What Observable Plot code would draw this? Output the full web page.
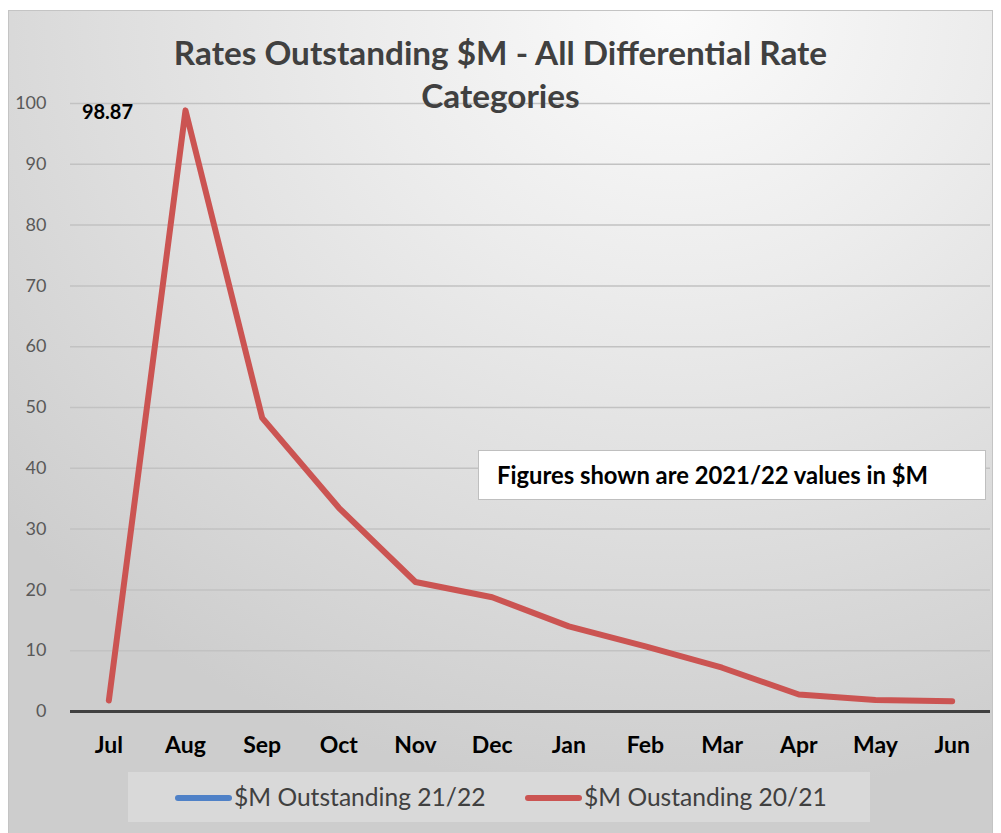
<!DOCTYPE html>
<html><head><meta charset="utf-8">
<script src="https://cdn.jsdelivr.net/npm/d3@7"></script>
<script src="https://cdn.jsdelivr.net/npm/@observablehq/plot@0.6"></script>
<style>
body{margin:0;background:#fff;font-family:Lato,"Open Sans",sans-serif}
#wrap{position:relative;width:1001px;height:833px;overflow:hidden}
#bg{position:absolute;left:8px;top:10px;width:983px;height:830px;border:1px solid #c4c4c4;
  background:radial-gradient(ellipse 90% 95% at 68% 0%, #fbfbfb 0%, #ececec 35%, #dedede 65%, #cdcdcd 100%)}
#chart{position:absolute;left:0;top:0}
#title{position:absolute;left:0;top:31px;width:1001px;text-align:center;font-size:33.3px;font-weight:700;color:#404040;line-height:43px}
#note{position:absolute;left:478px;top:450px;width:508px;height:50px;background:#fff;border:1px solid #bfbfbf;box-sizing:border-box;
  font-size:23.8px;font-weight:700;color:#000;line-height:48px;padding-left:18px;white-space:nowrap}
#legend{position:absolute;left:128px;top:772px;width:742px;height:50px;background:#d9d9d9;box-sizing:border-box;
  font-size:24.6px;color:#404040;line-height:50px}
.item{position:absolute;top:0;white-space:nowrap}
.sw{display:inline-block;width:57px;height:6px;border-radius:3px;vertical-align:middle;margin-right:2px;position:relative;top:-2px}
</style></head>
<body>
<div id="wrap">
  <div id="bg"></div>
  <div id="chart"></div>
  <div id="title"></div>
  <div id="note"></div>
  <div id="legend"></div>
</div>
<script>
const months = ["Jul","Aug","Sep","Oct","Nov","Dec","Jan","Feb","Mar","Apr","May","Jun"];
const outstanding2021 = [1.8, 98.87, 48.3, 33.5, 21.3, 18.8, 14.0, 10.7, 7.2, 2.8, 1.9, 1.7];
const yTicks = [0,10,20,30,40,50,60,70,80,90,100];
const seriesNames = ["$M Outstanding 21/22", "$M Oustanding 20/21"];
const seriesColors = ["#4f81c7", "#cb5452"];
const titleLines = ["Rates Outstanding $M - All Differential Rate", "Categories"];
const noteText = "Figures shown are 2021/22 values in $M";
const peakMonth = "Aug";
const peakValue = 98.87;

const data = months.map((m, i) => ({month: m, value: outstanding2021[i]}));

const chart = Plot.plot({
  width: 1001, height: 833,
  marginLeft: 70, marginRight: 11, marginTop: 103, marginBottom: 122,
  style: {background: "transparent", fontFamily: "Lato, 'Open Sans', sans-serif", overflow: "visible"},
  x: {type: "point", domain: months, padding: 0.5, round: false},
  y: {domain: [0, 100]},
  marks: [
    Plot.gridY(yTicks, {stroke: "#c2c2c2", strokeOpacity: 1, strokeWidth: 1.5}),
    Plot.axisY(yTicks, {tickSize: 0, tickPadding: 24, fontSize: 18, fill: "#595959", label: null}),
    Plot.axisX({tickSize: 0, tickPadding: 25, fontSize: 23, fontWeight: "bold", fill: "#000", label: null}),
    Plot.ruleY([0], {stroke: "#404040", strokeWidth: 3}),
    Plot.lineY(data, {x: "month", y: "value", stroke: seriesColors[1], strokeWidth: 6, strokeLinecap: "round", strokeLinejoin: "round"}),
    Plot.text([{month: peakMonth, value: peakValue}], {x: "month", y: "value", text: d => d.value.toFixed(2),
      dx: -78, dy: 2, fontSize: 20, fontWeight: "bold", fill: "#000"})
  ]
});
document.getElementById("chart").appendChild(chart);

document.getElementById("title").innerHTML = titleLines.join("<br>");
document.getElementById("note").textContent = noteText;

const legend = document.getElementById("legend");
const lefts = [47, 397];
seriesNames.forEach((name, i) => {
  const it = document.createElement("div");
  it.className = "item";
  it.style.left = lefts[i] + "px";
  const sw = document.createElement("span");
  sw.className = "sw";
  sw.style.background = seriesColors[i];
  it.appendChild(sw);
  it.appendChild(document.createTextNode(name));
  legend.appendChild(it);
});
</script>
</body></html>
